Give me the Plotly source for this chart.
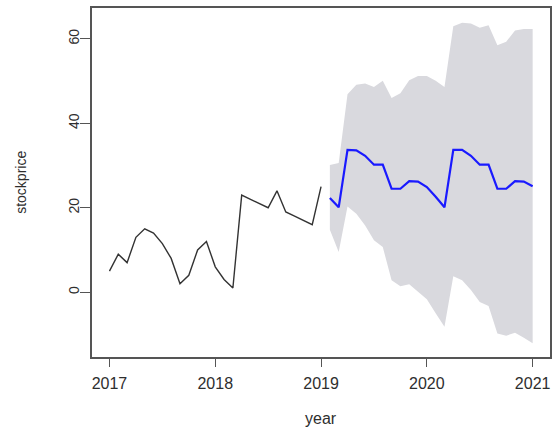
import plotly.graph_objects as go

# Monthly observed stock price, Jan 2017 - Jan 2019
hist_start = 2017.0
hist_price = [5, 9, 7, 13, 15, 14, 11.5, 8, 2, 4, 10, 12,
              6, 3, 1, 23, 22, 21, 20, 24, 19, 18, 17, 16, 25]

# Forecast, Feb 2019 - Jan 2021: point forecast and 95% interval
fc_start = 2019.0 + 1 / 12
fc_mean = [22.3, 20.1, 33.7, 33.6, 32.3, 30.2, 30.2, 24.5, 24.5, 26.3, 26.2, 24.9,
           22.6, 20.1, 33.7, 33.7, 32.3, 30.2, 30.2, 24.5, 24.5, 26.3, 26.2, 25.1]
fc_upper = [30.1, 30.6, 46.9, 49.1, 49.4, 48.6, 50.1, 46.0, 47.1, 50.2, 51.2, 51.2,
            50.1, 48.6, 63.0, 63.8, 63.6, 62.6, 63.2, 58.5, 59.3, 62.0, 62.3, 62.3]
fc_lower = [14.8, 9.5, 20.3, 18.6, 15.8, 12.3, 10.7, 2.8, 1.4, 1.9, 0.1, -1.7,
            -5.0, -8.2, 3.8, 2.8, 0.5, -2.3, -3.3, -9.8, -10.3, -9.6, -10.8, -12.1]

x_ticks = [2017, 2018, 2019, 2020, 2021]
y_ticks = [0, 20, 40, 60]

hist_t = [hist_start + i / 12 for i in range(len(hist_price))]
fc_t = [fc_start + i / 12 for i in range(len(fc_mean))]

band_col = "#D9D9DE"
text_col = "#2e2e2e"
axis_col = "#555555"
font = "Liberation Sans, Arial, sans-serif"

fig = go.Figure()

fig.add_trace(go.Scatter(x=fc_t, y=fc_lower, mode="lines",
                         line=dict(width=0, color=band_col),
                         showlegend=False, hoverinfo="skip"))
fig.add_trace(go.Scatter(x=fc_t, y=fc_upper, mode="lines",
                         line=dict(width=0, color=band_col),
                         fill="tonexty", fillcolor=band_col,
                         showlegend=False, hoverinfo="skip"))
fig.add_trace(go.Scatter(x=hist_t, y=hist_price, mode="lines",
                         line=dict(color="#333333", width=1.4),
                         showlegend=False))
fig.add_trace(go.Scatter(x=fc_t, y=fc_mean, mode="lines",
                         line=dict(color="#1a1aff", width=2.2),
                         showlegend=False))

fig.update_layout(
    width=558, height=427,
    margin=dict(l=92, r=6, t=7, b=70),
    paper_bgcolor="white", plot_bgcolor="white",
    font=dict(family=font, color=text_col),
    showlegend=False,
    xaxis=dict(
        range=[2016.835, 2021.164],
        tickvals=x_ticks, ticktext=[str(v) for v in x_ticks],
        ticks="outside", ticklen=8, tickwidth=1.2, tickcolor=axis_col,
        showline=True, linecolor=axis_col, linewidth=1.5, mirror=True,
        showgrid=False, zeroline=False,
        ticklabelstandoff=3,
        tickfont=dict(size=16, color=text_col),
    ),
    yaxis=dict(
        range=[-15.35, 67.3],
        tickvals=y_ticks, ticktext=[str(v) for v in y_ticks],
        ticks="outside", ticklen=10, tickwidth=1.2, tickcolor=axis_col,
        showline=True, linecolor=axis_col, linewidth=1.5, mirror=True,
        showgrid=False, zeroline=False,
        tickangle=-90,
        ticklabelstandoff=-4,
        tickfont=dict(size=14, color=text_col),
    ),
    annotations=[
        dict(text="stockprice", xref="paper", yref="paper",
             x=-0.1565, y=0.5, xanchor="center", yanchor="middle",
             textangle=-90, showarrow=False,
             font=dict(size=14, color=text_col, family=font)),
        dict(text="year", xref="paper", yref="paper",
             x=0.5, y=-0.175, xanchor="center", yanchor="middle",
             showarrow=False,
             font=dict(size=16, color=text_col, family=font)),
    ],
)

fig.write_html("out.html", config=dict(displayModeBar=False))
